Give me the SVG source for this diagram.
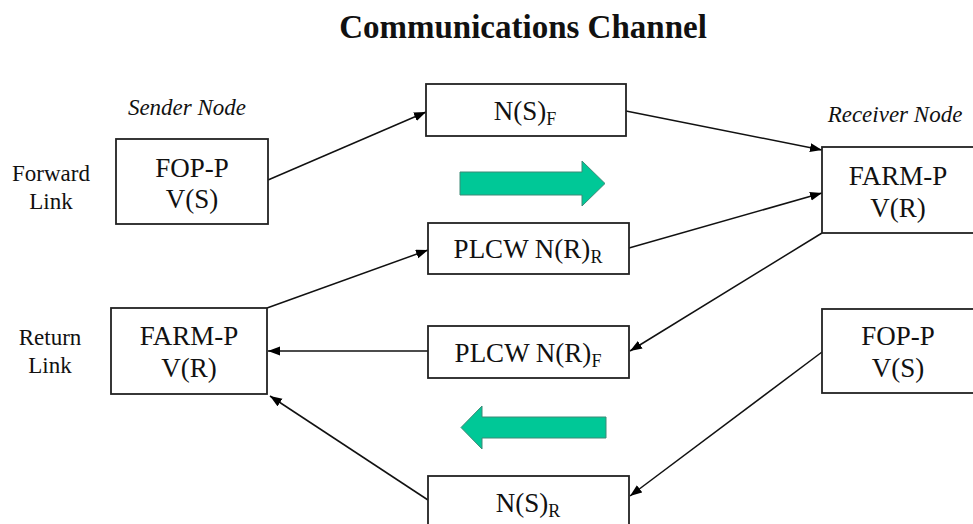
<svg xmlns="http://www.w3.org/2000/svg" width="973" height="524" viewBox="0 0 973 524">
  <defs>
    <marker id="arrow" markerUnits="userSpaceOnUse" markerWidth="13" markerHeight="10" refX="12" refY="4.5" orient="auto">
      <path d="M0,0 L12,4.5 L0,9 z" fill="#000"/>
    </marker>
    <style>
      .title { font-size: 33px; font-weight: bold; text-anchor: middle; }
      .box { fill: #fff; stroke: #222; stroke-width: 1.8; }
      .lbl { font-size: 27px; text-anchor: middle; }
      .side { font-size: 23px; text-anchor: middle; }
      .role { font-size: 23px; font-style: italic; text-anchor: middle; }
      .sub { font-size: 18px; }
      .conn line { stroke: #111; stroke-width: 1.5; }
      .arrowed { marker-end: url(#arrow); }
      .flow { fill: #00c897; stroke: #3d8a77; stroke-width: 1; }
    </style>
  </defs>
  <rect width="973" height="524" fill="#fff"/>

  <g font-family="'Liberation Serif', Tinos, 'DejaVu Serif', serif" fill="#111">
  <text class="title" x="523" y="38">Communications Channel</text>

  <text class="role" x="187" y="115">Sender Node</text>
  <text class="role" x="895" y="122">Receiver Node</text>

  <text class="side" x="51" y="181">Forward</text>
  <text class="side" x="51" y="209">Link</text>
  <text class="side" x="50" y="345">Return</text>
  <text class="side" x="50" y="373">Link</text>

  <!-- connectors -->
  <g id="connectors" class="conn">
    <line class="arrowed" x1="268" y1="180" x2="426" y2="112"/>
    <line class="arrowed" x1="626" y1="111" x2="822" y2="150"/>
    <line class="arrowed" x1="629" y1="248" x2="822" y2="193"/>
    <line class="arrowed" x1="822" y1="233" x2="630" y2="351"/>
    <line class="arrowed" x1="267" y1="308" x2="428" y2="250"/>
    <line class="arrowed" x1="428" y1="351" x2="268" y2="351"/>
    <line class="arrowed" x1="822" y1="352" x2="630" y2="496"/>
    <line class="arrowed" x1="428" y1="500" x2="270" y2="396"/>
  </g>

  <!-- direction of flow -->
  <g id="flow-forward">
    <path class="flow" d="M460,172 H582 V161 L605,183.5 L582,206 V195 H460 z"/>
  </g>
  <g id="flow-return">
    <path class="flow" d="M606,417 H482 V406 L461,427.5 L482,449 V438 H606 z"/>
  </g>

  <!-- sender side -->
  <g id="sender-fop">
    <rect class="box" x="116" y="139" width="152" height="85"/>
    <text class="lbl" x="192" y="177">FOP-P</text>
    <text class="lbl" x="192" y="208">V(S)</text>
  </g>
  <g id="sender-farm">
    <rect class="box" x="111" y="308" width="156" height="86"/>
    <text class="lbl" x="189" y="345">FARM-P</text>
    <text class="lbl" x="189" y="377">V(R)</text>
  </g>

  <!-- channel contents -->
  <g id="ns-forward">
    <rect class="box" x="426" y="84" width="200" height="52"/>
    <text class="lbl" x="525" y="120">N(S)<tspan class="sub" dy="5">F</tspan></text>
  </g>
  <g id="plcw-return">
    <rect class="box" x="428" y="223" width="201" height="51"/>
    <text class="lbl" x="528" y="258">PLCW N(R)<tspan class="sub" dy="5">R</tspan></text>
  </g>
  <g id="plcw-forward">
    <rect class="box" x="428" y="326" width="201" height="52"/>
    <text class="lbl" x="528" y="362">PLCW N(R)<tspan class="sub" dy="5">F</tspan></text>
  </g>
  <g id="ns-return">
    <rect class="box" x="428" y="476" width="201" height="60"/>
    <text class="lbl" x="528" y="512">N(S)<tspan class="sub" dy="5">R</tspan></text>
  </g>

  <!-- receiver side -->
  <g id="receiver-farm">
    <rect class="box" x="822" y="147" width="160" height="86"/>
    <text class="lbl" x="898" y="185">FARM-P</text>
    <text class="lbl" x="898" y="217">V(R)</text>
  </g>
  <g id="receiver-fop">
    <rect class="box" x="822" y="309" width="160" height="84"/>
    <text class="lbl" x="898" y="345">FOP-P</text>
    <text class="lbl" x="898" y="377">V(S)</text>
  </g>
  </g>
</svg>
